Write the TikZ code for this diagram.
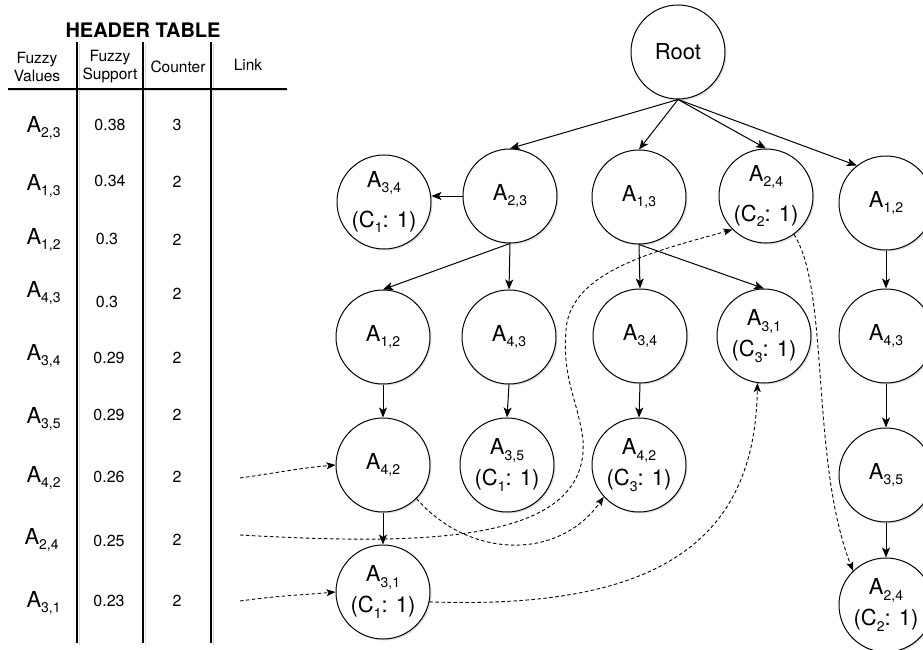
\documentclass[tikz,border=0pt]{standalone}
\usepackage{fontspec}
\setmainfont{TeX Gyre Heros}
\usepackage{tikz}
\usetikzlibrary{
	arrows.meta,
	shadows
}
\newcommand{\fv}[1]{A\raisebox{-5.5pt}{\fontsize{14}{14}\selectfont#1}}
\newcommand{\cls}[1]{(C\raisebox{-5.5pt}{\fontsize{14}{14}\selectfont#1}: 1)}

\begin{document}
\begin{tikzpicture}[x=1pt, y=-1pt,
	fnode/.style={circle, draw, line width=1pt, fill=white, minimum size=94pt, inner sep=0pt, align=center,
		font=\fontsize{22}{31}\selectfont,
		drop shadow={shadow xshift=1.5pt, shadow yshift=-1.5pt, opacity=0.25}},
	tree/.style={line width=1pt, -{Stealth[length=10pt, width=8pt, inset=2.5pt]}},
	link/.style={line width=0.9pt, dash pattern=on 3.5pt off 2.5pt, -{Stealth[length=9pt, width=7pt, inset=2pt]}},
	hline/.style={line width=1.1pt},
	hshade/.style={line width=1pt, gray!30},
	htext/.style={font=\fontsize{15.5}{18}\selectfont, align=center},
	hval/.style={font=\fontsize{16}{18}\selectfont, anchor=base},
	hlab/.style={font=\fontsize{22}{24}\selectfont, anchor=base west}]
	\useasboundingbox (0,0) rectangle (923,650);

	\begin{scope}
		\node[font=\bfseries\fontsize{20}{24}\selectfont] (htitle) at (143,30) {HEADER TABLE};
		\node[htext] (hfv) at (37,67) {Fuzzy\\Values};
		\node[htext] (hfs) at (110,67) {Fuzzy\\Support};
		\node[htext] (hct) at (178,67) {Counter};
		\node[htext] (hlk) at (248,65) {Link};
		\draw[hshade] (8,91) -- (287,91);
		\draw[hshade] (79,44) -- (79,645);
		\draw[hshade] (145,44) -- (145,645);
		\draw[hshade] (213,44) -- (213,645);
		\draw[hline] (8,89) -- (287,89);
		\draw[hline] (77,42) -- (77,643);
		\draw[hline] (143,42) -- (143,643);
		\draw[hline] (211,42) -- (211,643);

		\node[hlab] (fv23) at (23,132) {\fv{2,3}};
		\node[hlab] (fv13) at (23,190) {\fv{1,3}};
		\node[hlab] (fv12) at (23,244) {\fv{1,2}};
		\node[hlab] (fv43) at (23,297) {\fv{4,3}};
		\node[hlab] (fv34) at (23,360) {\fv{3,4}};
		\node[hlab] (fv35) at (23,423) {\fv{3,5}};
		\node[hlab] (fv42) at (23,482) {\fv{4,2}};
		\node[hlab] (fv24) at (21,544) {\fv{2,4}};
		\node[hlab] (fv31) at (23,607) {\fv{3,1}};

		\node[hval] (sp23) at (110,131) {0.38};
		\node[hval] (sp13) at (110,186) {0.34};
		\node[hval] (sp12) at (107,244) {0.3};
		\node[hval] (sp43) at (107,307) {0.3};
		\node[hval] (sp34) at (109,363) {0.29};
		\node[hval] (sp35) at (109,420) {0.29};
		\node[hval] (sp42) at (109,482) {0.26};
		\node[hval] (sp24) at (109,546) {0.25};
		\node[hval] (sp31) at (109,606) {0.23};

		\node[hval] (ct23) at (177,131) {3};
		\node[hval] (ct13) at (177,187) {2};
		\node[hval] (ct12) at (177,245) {2};
		\node[hval] (ct43) at (177,299) {2};
		\node[hval] (ct34) at (177,363) {2};
		\node[hval] (ct35) at (177,420) {2};
		\node[hval] (ct42) at (177,482) {2};
		\node[hval] (ct24) at (177,545) {2};
		\node[hval] (ct31) at (177,606) {2};

		\coordinate (k42) at (240,478);
		\coordinate (k24) at (240,535);
		\coordinate (k31) at (240,601);
	\end{scope}

	\begin{scope}
		\node[fnode] (root) at (678,52) {Root};

		\node[fnode] (l1a) at (384,202) {\fv{3,4}\\[9pt]\cls{1}};
		\node[fnode] (l1b) at (510,196) {\fv{2,3}};
		\node[fnode] (l1c) at (639,197) {\fv{1,3}};
		\node[fnode] (l1d) at (766,196) {\fv{2,4}\\[9pt]\cls{2}};
		\node[fnode] (l1e) at (886,203) {\fv{1,2}};

		\node[fnode] (l2a) at (383,337) {\fv{1,2}};
		\node[fnode] (l2b) at (509,337) {\fv{4,3}};
		\node[fnode] (l2c) at (640,336) {\fv{3,4}};
		\node[fnode] (l2d) at (764,336) {\fv{3,1}\\\cls{3}};
		\node[fnode] (l2e) at (886,336) {\fv{4,3}};

		\node[fnode] (l3a) at (383,465) {\fv{4,2}};
		\node[fnode] (l3b) at (507,465) {\fv{3,5}\\\cls{1}};
		\node[fnode] (l3c) at (639,465) {\fv{4,2}\\\cls{3}};
		\node[fnode] (l3e) at (886,475) {\fv{3,5}};

		\node[fnode] (l4a) at (383,592) {\fv{3,1}\\\cls{1}};
		\node[fnode] (l4e) at (886,605) {\fv{2,4}\\\cls{2}};

		\draw[tree] (root.south) -- (l1b.north);
		\draw[tree] (root.south) -- (l1c.north);
		\draw[tree] (root.south) -- (l1d.north);
		\draw[tree] (root.south) -- (l1e.128);
		\draw[tree] (l1b.west) -- (l1a.east |- l1b.west);
		\draw[tree] (l1b.south) -- (l2a.north);
		\draw[tree] (l1b.south) -- (l2b.north);
		\draw[tree] (l1c.south) -- (l2c.north);
		\draw[tree] (l1c.south) -- (l2d.north);
		\draw[tree] (l1e.south) -- (l2e.north);
		\draw[tree] (l2a.south) -- (l3a.north);
		\draw[tree] (l2b.south) -- (l3b.north);
		\draw[tree] (l2c.south) -- (l3c.north);
		\draw[tree] (l2e.south) -- (l3e.north);
		\draw[tree] (l3a.south) -- (l4a.north);
		\draw[tree] (l3e.south) -- (l4e.north);
	\end{scope}

	\draw[link] (k42) to[out=8, in=185] (l3a.west);
	\draw[link] (k31) to[out=8, in=185] (l4a.west);
	\draw[link] (k24) .. controls (420,545) and (590,545) .. (583,440)
		.. controls (578,400) and (562,380) .. (566,330)
		.. controls (570,270) and (660,250) .. (l1d.225);
	\draw[link] (l1d.-54) .. controls (830,290) and (810,460) .. (l4e.134);
	\draw[link] (l3a.-45) .. controls (470,560) and (560,560) .. (l3c.222);
	\draw[link] (l4a.-12) .. controls (660,610) and (755,540) .. (l2d.-98);
\end{tikzpicture}
\end{document}
